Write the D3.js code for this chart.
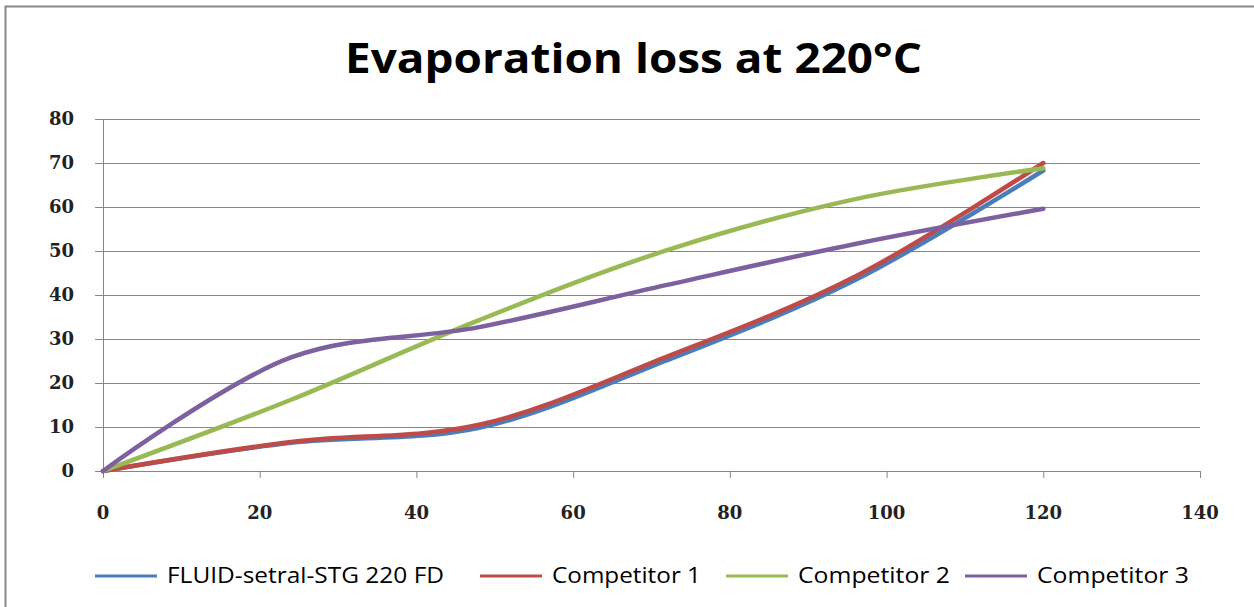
<!DOCTYPE html>
<html>
<head>
<meta charset="utf-8">
<script src="https://cdn.jsdelivr.net/npm/d3@7"></script>
<style>
body { margin: 0; background: #fff; }
</style>
</head>
<body>
<script>
var hours = [0, 24, 48, 72, 96, 120];
var fluid = [0, 6.4, 9.8, 25.2, 43.4, 68.3];
var comp1 = [0, 6.6, 10.5, 26.0, 44.2, 70.0];
var comp2 = [0, 16.2, 34.3, 50.2, 61.8, 68.8];
var comp3 = [0, 25.8, 32.7, 42.3, 51.6, 59.6];
var seriesNames = ["FLUID-setral-STG 220 FD", "Competitor 1", "Competitor 2", "Competitor 3"];
var seriesColors = ["#4a7ebb", "#be4b48", "#98b954", "#7d60a0"];
var xTicks = [0, 20, 40, 60, 80, 100, 120, 140];
var yTicks = [0, 10, 20, 30, 40, 50, 60, 70, 80];

var width = 1254;
var height = 607;
var plotLeft = 103, plotRight = 1200, plotTop = 119, plotBottom = 471;

var svg = d3.select("body").append("svg")
	.attr("width", width)
	.attr("height", height);

// chart frame
svg.append("path")
	.attr("d", "M5.5," + height + " V6.5 H" + width)
	.attr("fill", "none")
	.attr("stroke", "#878787")
	.attr("stroke-width", 2);

svg.append("text")
	.text("Evaporation loss at 220°C")
	.attr("x", 345)
	.attr("y", 73)
	.attr("font-family", "'Open Sans', sans-serif")
	.attr("font-weight", "bold")
	.attr("font-size", "41px")
	.attr("textLength", 577)
	.attr("lengthAdjust", "spacingAndGlyphs")
	.attr("fill", "#000");

var x = d3.scaleLinear().domain([0, 140]).range([plotLeft, plotRight]);
var y = d3.scaleLinear().domain([0, 80]).range([plotBottom, plotTop]);

// horizontal gridlines
svg.append("g")
	.selectAll("line").data(yTicks.slice(1)).enter().append("line")
	.attr("x1", plotLeft)
	.attr("x2", plotRight)
	.attr("y1", function(d) { return y(d) + 0.5; })
	.attr("y2", function(d) { return y(d) + 0.5; })
	.attr("stroke", "#868686")
	.attr("stroke-width", 1.2);

svg.append("g")
	.attr("transform", "translate(" + plotLeft + ",0)")
	.call(d3.axisLeft(y).tickValues(yTicks).tickSize(8).tickSizeOuter(0).tickFormat(""))
	.call(function(g) { g.select(".domain").attr("stroke", "#868686"); })
	.call(function(g) { g.selectAll(".tick line").attr("stroke", "#868686"); });

svg.append("g")
	.attr("transform", "translate(0," + plotBottom + ")")
	.call(d3.axisBottom(x).tickValues(xTicks).tickSize(7).tickSizeOuter(0).tickFormat(""))
	.call(function(g) { g.select(".domain").attr("stroke", "#868686"); })
	.call(function(g) { g.selectAll(".tick line").attr("stroke", "#868686"); });

// tick labels
svg.selectAll("text.ylab").data(yTicks).enter().append("text")
	.attr("class", "ylab")
	.text(function(d) { return d; })
	.attr("x", 74)
	.attr("y", function(d) { return y(d) + 6; })
	.attr("text-anchor", "end")
	.attr("font-family", "'DejaVu Serif', serif")
	.attr("font-weight", "bold")
	.attr("font-size", "18px")
	.attr("fill", "#222");

svg.selectAll("text.xlab").data(xTicks).enter().append("text")
	.attr("class", "xlab")
	.text(function(d) { return d; })
	.attr("x", function(d) { return x(d); })
	.attr("y", 519)
	.attr("text-anchor", "middle")
	.attr("font-family", "'DejaVu Serif', serif")
	.attr("font-weight", "bold")
	.attr("font-size", "18px")
	.attr("fill", "#222");

var allSeries = [fluid, comp1, comp2, comp3];
var line = d3.line()
	.x(function(d, i) { return x(hours[i]); })
	.y(function(d) { return y(d); })
	.curve(d3.curveCatmullRom.alpha(0.5));

svg.selectAll("path.series").data(allSeries).enter().append("path")
	.attr("class", "series")
	.attr("d", line)
	.attr("fill", "none")
	.attr("stroke", function(d, i) { return seriesColors[i]; })
	.attr("stroke-width", 4.5)
	.attr("stroke-linecap", "round");

// legend
var legendX = [95, 480, 726, 965];
var legendTextW = [277, 149, 152, 152];
var leg = svg.selectAll("g.legend").data(seriesNames).enter().append("g")
	.attr("class", "legend")
	.attr("transform", function(d, i) { return "translate(" + legendX[i] + ",576)"; });
leg.append("line")
	.attr("x1", 0).attr("x2", 62)
	.attr("stroke", function(d, i) { return seriesColors[i]; })
	.attr("stroke-width", 3);
leg.append("text")
	.text(function(d) { return d; })
	.attr("x", 72)
	.attr("y", 7)
	.attr("font-family", "'Open Sans', sans-serif")
	.attr("font-size", "21px")
	.attr("textLength", function(d, i) { return legendTextW[i]; })
	.attr("lengthAdjust", "spacingAndGlyphs")
	.attr("fill", "#000");
</script>
</body>
</html>
